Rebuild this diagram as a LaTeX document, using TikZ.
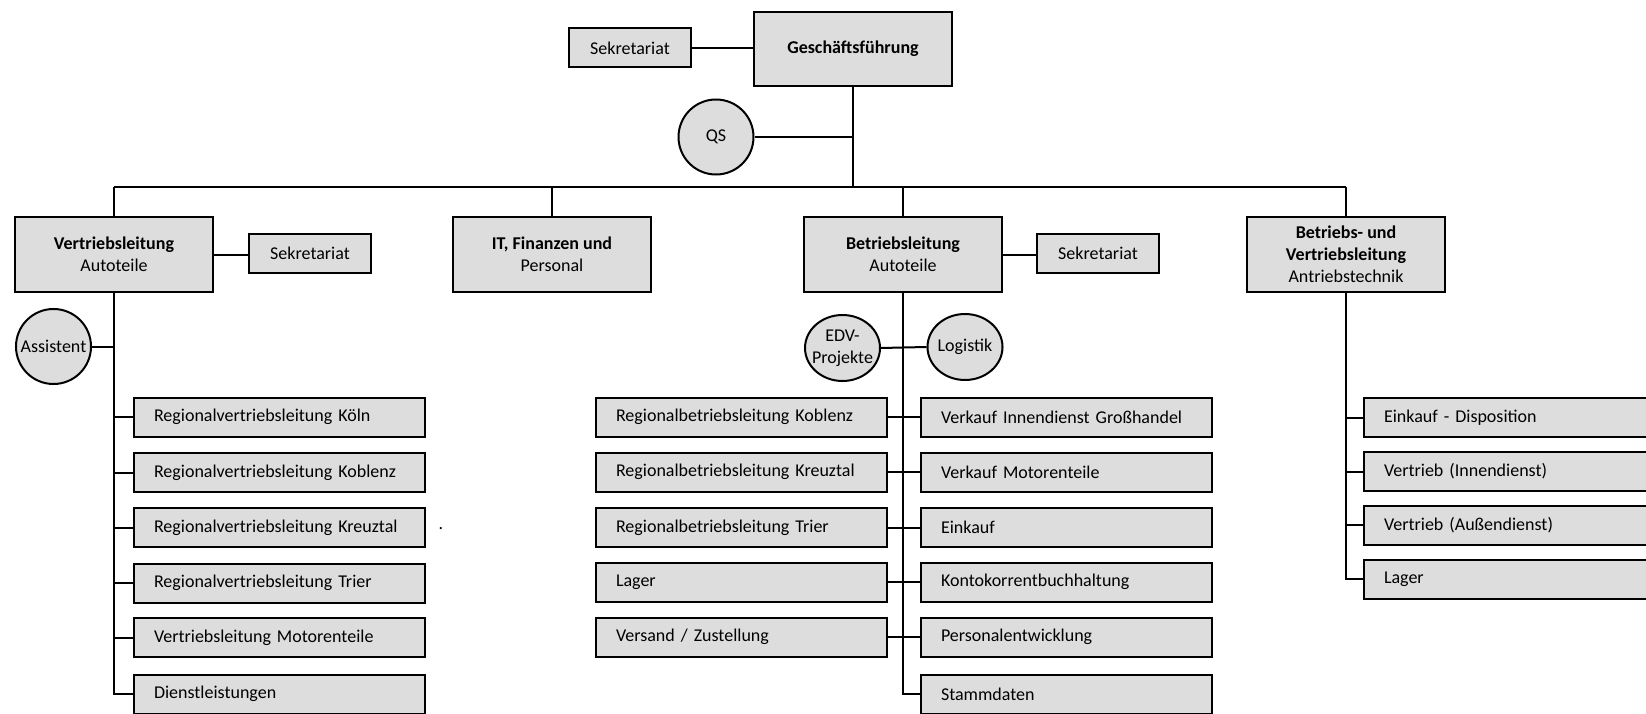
\documentclass[tikz,border=0pt]{standalone}
\usepackage{fontspec}
\setmainfont{Carlito}
\usepackage{tikz}
\usepackage{xcolor}
\usetikzlibrary{shapes.geometric}
\definecolor{boxgray}{RGB}{221,221,221}

\begin{document}
\begin{tikzpicture}[x=1pt,y=-1pt,line width=2pt,font=\fontsize{18}{22}\selectfont,
	box/.style={draw,fill=boxgray,minimum width=198pt,minimum height=75pt,align=center,inner sep=0pt},
	klein/.style={draw,fill=boxgray,minimum width=122pt,minimum height=39pt,inner sep=0pt},
	kreis/.style={draw,fill=boxgray,circle,minimum size=75pt,inner sep=0pt},
	oval/.style={draw,fill=boxgray,ellipse,minimum width=75pt,minimum height=66pt,inner xsep=-5pt,inner ysep=0pt,align=center},
	liste/.style={draw,fill=boxgray,anchor=west,minimum height=39pt,text width=251pt,inner xsep=20pt,inner ysep=0pt,align=left},
	stamm/.style={line width=2.8pt}]
			\useasboundingbox (0,0) rectangle (1646,714);
			\clip (0,0) rectangle (1646,714);
			\coordinate (bus) at (0,187);
			
			\node[box,minimum height=74pt] (gf) at (853,49) {\textbf{Geschäftsführung}};
			\node[klein] (sek) at (630,48) {Sekretariat};
			\node[kreis] (qs) at (716,137) {QS};
			
			\node[box] (vl) at (114,254.5) {\textbf{Vertriebsleitung}\\Autoteile};
			\node[klein] (vlsek) at (310,253.5) {Sekretariat};
			\node[kreis] (assi) at (53.5,346.5) {Assistent};
			\node[box] (it) at (552,254.5) {\textbf{IT, Finanzen und}\\Personal};
			\node[box] (bl) at (903,254.5) {\textbf{Betriebsleitung}\\Autoteile};
			\node[klein] (blsek) at (1098,253.5) {Sekretariat};
			\node[oval] (edv) at (842.5,348) {EDV-\\Projekte};
			\node[oval] (log) at (965,347) {Logistik};
			\node[box] (bvl) at (1346,254.5) {\textbf{Betriebs- und}\\\textbf{Vertriebsleitung}\\Antriebstechnik};
			
			\node[liste] (rv1) at (133,417) {Regionalvertriebsleitung Köln};
			\node[liste] (rv2) at (133,472.5) {Regionalvertriebsleitung Koblenz};
			\node[liste] (rv3) at (133,527.5) {Regionalvertriebsleitung Kreuztal};
			\node[liste] (rv4) at (133,583) {Regionalvertriebsleitung Trier};
			\node[liste] (rv5) at (133,637.5) {Vertriebsleitung Motorenteile};
			\node[liste] (rv6) at (133,694) {Dienstleistungen};
			\node[anchor=base,inner sep=0pt] (punkt) at (441,529) {.};
			
			\node[liste,anchor=east] (bb1) at (888,417) {Regionalbetriebsleitung Koblenz};
			\node[liste,anchor=east] (bb2) at (888,472) {Regionalbetriebsleitung Kreuztal};
			\node[liste,anchor=east] (bb3) at (888,527.5) {Regionalbetriebsleitung Trier};
			\node[liste,anchor=east] (bb4) at (888,582) {Lager};
			\node[liste,anchor=east] (bb5) at (888,637) {Versand / Zustellung};
			\node[liste] (bv1) at (920,417) {Verkauf Innendienst Großhandel};
			\node[liste] (bv2) at (920,472) {Verkauf Motorenteile};
			\node[liste] (bv3) at (920,527.5) {Einkauf};
			\node[liste] (bv4) at (920,582) {Kontokorrentbuchhaltung};
			\node[liste] (bv5) at (920,637) {Personalentwicklung};
			\node[liste] (bv6) at (920,694) {Stammdaten};
			
			\node[liste] (at1) at (1363,417.5) {Einkauf - Disposition};
			\node[liste] (at2) at (1363,471.5) {Vertrieb (Innendienst)};
			\node[liste] (at3) at (1363,525) {Vertrieb (Außendienst)};
			\node[liste] (at4) at (1363,579) {Lager};
			
			\draw (sek.east) -- (sek.east -| gf.west);
			\draw[stamm] (gf.south) -- (gf.south |- bus);
			\draw (qs.east) -- (qs.east -| gf.south);
			\draw[stamm] (vl.north |- bus) -- (bvl.north |- bus);
			\draw[stamm] (vl.north) -- (vl.north |- bus);
			\draw[stamm] (it.north) -- (it.north |- bus);
			\draw[stamm] (bl.north) -- (bl.north |- bus);
			\draw[stamm] (bvl.north) -- (bvl.north |- bus);
			
			\draw (vl.east) -- (vl.east -| vlsek.west);
			\draw[stamm] (vl.south) |- (rv6.west);
			\draw (assi.east) -- (assi.east -| vl.south);
			\draw (rv1.west) -- (rv1.west -| vl.south);
			\draw (rv2.west) -- (rv2.west -| vl.south);
			\draw (rv3.west) -- (rv3.west -| vl.south);
			\draw (rv4.west) -- (rv4.west -| vl.south);
			\draw (rv5.west) -- (rv5.west -| vl.south);
			
			\draw (bl.east) -- (bl.east -| blsek.west);
			\draw[stamm] (bl.south) |- (bv6.west);
			\draw (edv.east) -- (log.west);
			\draw (bb1.east) -- (bv1.west);
			\draw (bb2.east) -- (bv2.west);
			\draw (bb3.east) -- (bv3.west);
			\draw (bb4.east) -- (bv4.west);
			\draw (bb5.east) -- (bv5.west);
			
			\draw[stamm] (bvl.south) |- (at4.west);
			\draw (at1.west) -- (at1.west -| bvl.south);
			\draw (at2.west) -- (at2.west -| bvl.south);
			\draw (at3.west) -- (at3.west -| bvl.south);
		\end{tikzpicture}
\end{document}
